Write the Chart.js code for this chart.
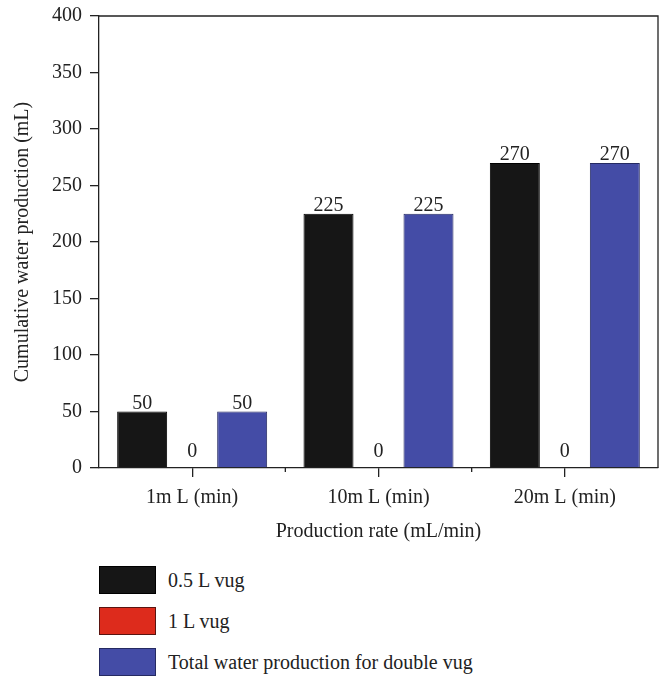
<!DOCTYPE html>
<html>
<head>
<meta charset="utf-8">
<script src="https://cdn.jsdelivr.net/npm/chart.js@4"></script>
<style>
  body { margin: 0; background: #fff; }
  #wrap { position: relative; width: 665px; height: 676px; }
  #legend { position: absolute; left: 99px; top: 566px; font-family: "Liberation Serif", serif; font-size: 20px; color: #222; }
  .item { display: flex; align-items: center; height: 28px; margin-bottom: 13px; }
  .box { width: 55px; height: 26px; border: 1px solid #333; margin-right: 12px; }
</style>
</head>
<body>
<div id="wrap">
  <canvas id="my-chart" width="665" height="556"></canvas>
  <div id="legend"></div>
</div>
<script>
const categories = ['1m L (min)', '10m L (min)', '20m L (min)']
const vugHalf = [50, 225, 270]
const vugOne = [0, 0, 0]
const doubleVug = [50, 225, 270]
const seriesNames = ['0.5 L vug', '1 L vug', 'Total water production for double vug']
const seriesColors = ['#161616', '#dd2b1c', '#444ca6']
const seriesBorders = ['#000000', '#5a1410', '#252a62']

const fontFamily = '"Liberation Serif", serif'
const axisColor = '#222'

// value labels above the bars + box frame + short ticks at category edges
const extrasPlugin = {
  id: 'extras',
  afterDatasetsDraw(chart) {
    const ctx = chart.ctx
    ctx.save()
    ctx.font = '20px ' + fontFamily
    ctx.fillStyle = '#222'
    ctx.textAlign = 'center'
    ctx.textBaseline = 'alphabetic'
    chart.data.datasets.forEach((ds, i) => {
      const meta = chart.getDatasetMeta(i)
      meta.data.forEach((bar, j) => {
        const v = ds.data[j]
        ctx.fillText(String(v), bar.x, bar.y - (v === 0 ? 11 : 3))
      })
    })
    ctx.restore()
  },
  afterDraw(chart) {
    const {ctx, chartArea: a} = chart
    const xs = chart.scales.x
    ctx.save()
    ctx.strokeStyle = axisColor
    ctx.lineWidth = 1.3
    ctx.beginPath()
    ctx.moveTo(a.left, a.top)
    ctx.lineTo(a.right, a.top)
    ctx.lineTo(a.right, a.bottom)
    const step = (a.right - a.left) / categories.length
    for (let k = 1; k < categories.length; k++) {
      const px = xs.getPixelForValue(k) - step / 2
      ctx.moveTo(px, a.bottom)
      ctx.lineTo(px, a.bottom + 4)
    }
    ctx.stroke()
    ctx.restore()
  }
}

const ctx = document.getElementById('my-chart').getContext('2d')
const chart = new Chart(ctx, {
  type: 'bar',
  data: {
    labels: categories,
    datasets: [
      { label: seriesNames[0], data: vugHalf, backgroundColor: seriesColors[0], borderColor: seriesBorders[0], borderWidth: 1 },
      { label: seriesNames[1], data: vugOne, backgroundColor: seriesColors[1], borderColor: seriesBorders[1], borderWidth: 1 },
      { label: seriesNames[2], data: doubleVug, backgroundColor: seriesColors[2], borderColor: seriesBorders[2], borderWidth: 1 }
    ]
  },
  options: {
    responsive: false,
    animation: false,
    devicePixelRatio: 1,
    categoryPercentage: 0.805,
    barPercentage: 1,
    layout: { padding: { top: 16, right: 7, left: 0, bottom: 0 } },
    plugins: {
      legend: { display: false },
      tooltip: { enabled: false }
    },
    scales: {
      x: {
        afterFit(scale) { scale.height = 88; scale.paddingLeft = 0; scale.paddingRight = 0 },
        grid: { offset: false, drawOnChartArea: false, drawTicks: true, tickLength: 9, color: axisColor, lineWidth: 1.3 },
        border: { display: true, color: axisColor, width: 1.3 },
        ticks: { color: '#222', font: { family: fontFamily, size: 20 }, padding: 9, maxRotation: 0 },
        title: { display: true, text: 'Production rate (mL/min)', color: '#222', font: { family: fontFamily, size: 20 }, padding: { top: 0, bottom: 12 } }
      },
      y: {
        min: 0,
        max: 400,
        afterFit(scale) { scale.width = 99; scale.paddingTop = 0; scale.paddingBottom = 0 },
        grid: { drawOnChartArea: false, drawTicks: true, tickLength: 9, color: axisColor, lineWidth: 1.3 },
        border: { display: true, color: axisColor, width: 1.3 },
        ticks: { stepSize: 50, color: '#222', font: { family: fontFamily, size: 20 }, padding: 8 },
        title: { display: true, text: 'Cumulative water production (mL)', color: '#222', font: { family: fontFamily, size: 20 }, padding: { top: 11, bottom: 0 } }
      }
    }
  },
  plugins: [extrasPlugin]
})

// legend as html, built from the same series lists
const legendEl = document.getElementById('legend')
seriesNames.forEach((name, i) => {
  const item = document.createElement('div')
  item.className = 'item'
  const box = document.createElement('span')
  box.className = 'box'
  box.style.background = seriesColors[i]
  box.style.borderColor = seriesBorders[i]
  const txt = document.createElement('span')
  txt.textContent = name
  item.appendChild(box)
  item.appendChild(txt)
  legendEl.appendChild(item)
})
</script>
</body>
</html>
